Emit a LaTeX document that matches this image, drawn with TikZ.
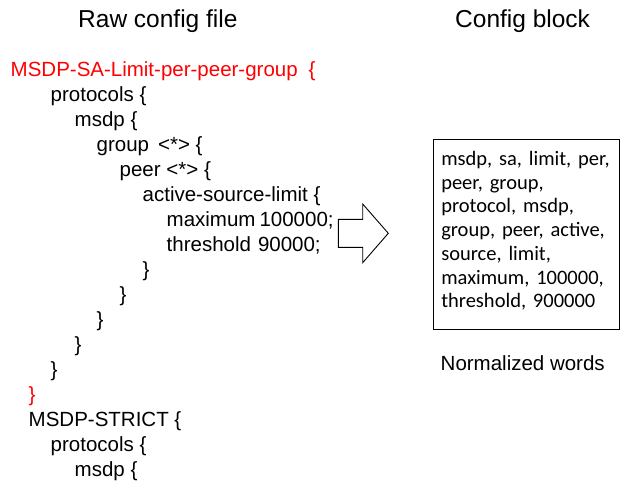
\documentclass[tikz,border=0pt]{standalone}
\usepackage{fontspec}
\setmainfont{Liberation Sans}
\newfontfamily\wordfont{Carlito}
\usepackage{tikz}
\usetikzlibrary{positioning}
\definecolor{cfgred}{RGB}{255,0,0}
\newcommand{\topgap}{\rule{0pt}{25.7pt}}
\newcommand{\botgap}{\rule[-21.8pt]{0pt}{0pt}}

\begin{document}
\begin{tikzpicture}[x=1pt, y=-1pt, inner sep=0pt,
    codeline/.style={anchor=base west, font=\fontsize{20.5}{25}\selectfont},
    heading/.style={anchor=base west, font=\fontsize{24.5}{29}\selectfont}]
  \useasboundingbox (0,0) rectangle (622,483);
  \node[heading] (rawtitle) at (78,27) {Raw config file};
  \node[heading] (blocktitle) at (455,27) {Config block};
  % raw config lines: indent / text / colour
  \foreach \x/\txt/\col [count=\i from 0] in {
      10.5/{MSDP-SA-Limit-per-peer-group\hspace{11pt}\{}/cfgred,
      50.5/{protocols \{}/black,
      74.5/{msdp \{}/black,
      96.5/{group\hspace{9pt}<*> \{}/black,
      119.5/{peer <*> \{}/black,
      142.5/{active-source-limit \{}/black,
      166.5/{maximum\hspace{4pt}100000;}/black,
      166.5/{threshold\hspace{7pt}90000;}/black,
      142.5/{\}}/black,
      119.5/{\}}/black,
      96.5/{\}}/black,
      74.5/{\}}/black,
      50.5/{\}}/black,
      28.5/{\}}/cfgred,
      28.5/{MSDP-STRICT \{}/black,
      50.5/{protocols \{}/black,
      74.5/{msdp \{}/black}
    \node[codeline, text=\col] (line\i) at (\x,76.7+25*\i) {\txt};
  % block arrow
  \draw[line width=0.9pt, fill=white] (338.3,219.3) -- (362.7,219.3) -- (362.7,204) -- (388.3,233.3)
    -- (362.7,262.7) -- (362.7,247.3) -- (338.3,247.3) -- cycle;
  \node[draw, line width=1.1pt, anchor=north west, inner xsep=8pt, text width=170.3pt, align=left,
    font=\wordfont\fontsize{20.5}{23.7}\selectfont] (words) at (432.7,139.3)
    {\topgap msdp, sa, limit, per,\\ peer, group,\\ protocol, msdp,\\ group, peer, active,\\
     source, limit,\\ maximum, 100000,\\ threshold, 900000\botgap};
  \node[codeline] (wordslabel) at (440.5,370) {Normalized words};
\end{tikzpicture}
\end{document}
